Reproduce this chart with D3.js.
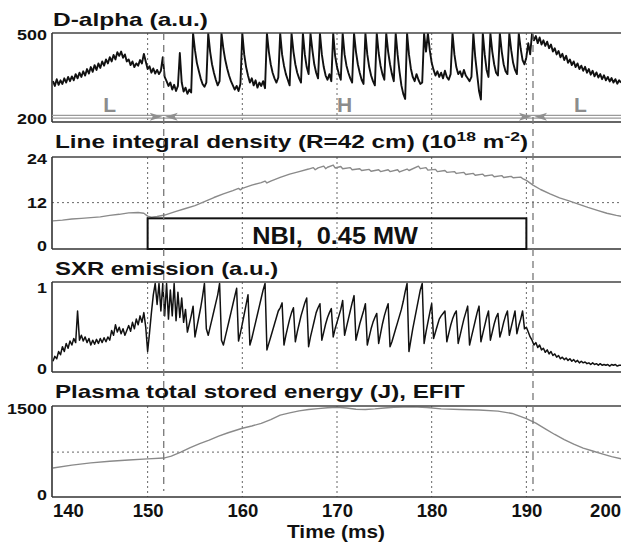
<!DOCTYPE html>
<html>
<head>
<meta charset="utf-8">
<script src="https://cdn.jsdelivr.net/npm/d3@7"></script>
<style>
  body { margin: 0; background: #fff; }
  text { font-family: "Liberation Sans", Arial, sans-serif; font-weight: bold; fill: #111; }
</style>
</head>
<body>
<svg id="chart" width="621" height="546"></svg>
<script>
// ---- data ----
var tickTimes = [140, 150, 160, 170, 180, 190, 200];
var gridTimes = [150, 160, 170, 180, 190];
var transitionTimes = [151.7, 190.7];          // L->H and H->L
var phaseLabels = ["L", "H", "L"];
var phaseTimes = [146, 170.8, 195.7];
var nbiStart = 150, nbiEnd = 190, nbiLevel = 7.7;
var nbiLabel = "NBI,  0.45 MW";

// D-alpha and SXR are sampled every 0.2 ms from 140 ms
var sampleStart = 140, sampleStep = 0.2;

var dalpha = [
  335, 318, 342, 322, 338,  325, 345, 330, 350, 335,  352, 338, 360, 345, 365,
  350, 370, 355, 378, 362,  385, 368, 392, 375, 398,  382, 405, 390, 412, 398,
  420, 405, 428, 412, 438,  425, 440, 418, 430, 405,  412, 392, 405, 385, 398,
  390, 410, 398, 432, 405,  378, 388, 365, 380, 362,  375, 360, 372, 420, 350,
  335, 318, 330, 305, 322,  300, 318, 435, 330, 298,  312, 290, 305, 295, 505,
  445, 400, 372, 345, 325,  315, 330, 505, 440, 395,  365, 340, 320, 335, 505,
  450, 410, 380, 355, 335,  320, 305, 318, 300, 325,  505, 430, 385, 355, 330,
  345, 320, 338, 312, 330,  318, 335, 310, 505, 440,  395, 365, 345, 330, 348,
  505, 430, 390, 360, 340,  320, 505, 440, 395, 365,  345, 330, 505, 430, 385,
  360, 505, 445, 395, 365,  345, 505, 430, 385, 355,  340, 360, 335, 505, 425,
  385, 360, 340, 505, 430,  390, 365, 345, 330, 505,  440, 395, 365, 340, 325,
  505, 430, 385, 355, 335,  320, 505, 435, 390, 360,  340, 505, 440, 395, 360,
  335, 505, 430, 370, 320,  290, 272, 505, 430, 380,  350, 335, 360, 340, 325,
  330, 505, 440, 505, 445,  400, 375, 355, 370, 350,  365, 345, 372, 350, 340,
  360, 505, 430, 385, 360,  370, 350, 375, 355, 345,  335, 350, 505, 420, 360,
  300, 270, 505, 430, 375,  350, 505, 440, 395, 365,  355, 505, 440, 395, 370,
  360, 505, 445, 400, 375,  360, 505, 450, 410, 395,  420, 470, 430, 505, 480,
  495, 470, 490, 465, 480,  460, 475, 452, 465, 440,  452, 430, 442, 420, 432,
  410, 425, 400, 412, 392,  405, 385, 398, 378, 390,  372, 386, 365, 378, 358,
  372, 352, 366, 348, 360,  342, 356, 338, 350, 334,  346, 330, 342, 326, 338,
  330
];

var sxr = [
  0.10, 0.16, 0.13, 0.22, 0.18,  0.28, 0.22, 0.32, 0.26, 0.35,  0.30, 0.38, 0.33, 0.72, 0.36,
  0.42, 0.35, 0.40, 0.33, 0.38,  0.30, 0.36, 0.31, 0.37, 0.32,  0.38, 0.33, 0.39, 0.34, 0.40,
  0.36, 0.48, 0.42, 0.55, 0.46,  0.52, 0.44, 0.50, 0.42, 0.48,  0.54, 0.47, 0.58, 0.50, 0.62,
  0.55, 0.66, 0.58, 0.70, 0.52,  0.22, 0.45, 0.70, 0.92, 1.06,  0.80, 1.06, 0.72, 1.06, 0.66,
  1.06, 0.62, 0.98, 0.66, 1.06,  0.60, 0.95, 0.64, 0.88, 0.58,  0.74, 0.46, 0.56, 0.66, 0.78,
  0.40, 0.52, 0.64, 0.76, 0.90,  1.06, 0.50, 0.42, 0.52, 0.62,  0.72, 0.82, 0.92, 1.06, 0.36,
  0.30, 0.40, 0.50, 0.60, 0.70,  0.80, 0.90, 1.00, 0.35, 0.45,  0.56, 0.68, 0.80, 0.92, 0.30,
  0.38, 0.48, 0.58, 0.68, 0.78,  0.88, 0.98, 1.06, 0.24, 0.32,  0.40, 0.48, 0.56, 0.64, 0.72,
  0.76, 0.82, 0.30, 0.42, 0.52,  0.62, 0.70, 0.76, 0.34, 0.46,  0.56, 0.66, 0.74, 0.82, 0.88,
  0.28, 0.40, 0.50, 0.60, 0.70,  0.76, 0.81, 0.36, 0.46, 0.56,  0.64, 0.70, 0.75, 0.40, 0.50,
  0.58, 0.66, 0.74, 0.85, 0.42,  0.52, 0.62, 0.72, 0.82, 0.91,  0.36, 0.46, 0.56, 0.64, 0.72,
  0.81, 0.30, 0.40, 0.50, 0.58,  0.64, 0.69, 0.32, 0.44, 0.56,  0.66, 0.74, 0.81, 0.28, 0.34,
  0.42, 0.50, 0.58, 0.66, 0.74,  0.84, 0.96, 1.06, 0.22, 0.36,  0.50, 0.62, 0.74, 0.86, 0.98,
  1.06, 0.32, 0.46, 0.58, 0.70,  0.81, 0.38, 0.46, 0.54, 0.62,  0.66, 0.69, 0.72, 0.34, 0.44,
  0.54, 0.62, 0.68, 0.72, 0.32,  0.42, 0.52, 0.62, 0.70, 0.78,  0.30, 0.40, 0.50, 0.60, 0.70,
  0.78, 0.34, 0.44, 0.54, 0.64,  0.72, 0.36, 0.46, 0.56, 0.64,  0.69, 0.40, 0.48, 0.58, 0.66,
  0.72, 0.42, 0.52, 0.62, 0.72,  0.44, 0.54, 0.62, 0.72, 0.50,  0.52, 0.46, 0.40, 0.36, 0.30,
  0.33, 0.27, 0.30, 0.24, 0.26,  0.21, 0.24, 0.19, 0.22, 0.17,  0.19, 0.15, 0.17, 0.13, 0.15,
  0.12, 0.14, 0.11, 0.13, 0.10,  0.12, 0.09, 0.11, 0.08, 0.10,  0.08, 0.09, 0.07, 0.08, 0.06,
  0.08, 0.06, 0.07, 0.05, 0.07,  0.05, 0.06, 0.05, 0.06, 0.04,  0.06, 0.05, 0.06, 0.04, 0.05,
  0.05
];

// [time ms, 10^18 m^-2]
var density = [
  [140, 7.0], [141, 7.2], [142, 7.5], [143, 7.7], [144, 7.9], [145, 8.1], [146, 8.5], [147, 8.8],
  [148, 9.2], [149, 9.3], [149.6, 9.1], [150, 8.3], [150.4, 8.0], [151, 8.2], [151.8, 8.6],
  [153, 9.6], [154, 10.4], [155, 11.2], [156, 12.3], [157, 13.4], [158, 14.4], [159, 15.3],
  [159.6, 15.9], [159.8, 15.5], [160, 15.9], [161, 16.8], [162, 17.5], [162.4, 17.9], [162.6, 17.4],
  [163, 17.9], [164, 18.9], [165, 19.8], [166, 20.5], [167, 21.2], [167.5, 21.6], [167.7, 21.0],
  [168, 21.5], [168.6, 22.0], [168.8, 21.3], [169, 21.7], [169.6, 22.3], [169.8, 21.5],
  [170.4, 21.9], [170.6, 21.3], [171.4, 21.6], [171.6, 21.0], [172.4, 21.3], [172.6, 20.8],
  [173.4, 21.1], [173.6, 20.6], [174.4, 21.0], [174.6, 20.5], [175.4, 21.0], [175.6, 20.5],
  [176.4, 21.0], [176.6, 20.4], [177.4, 21.2], [177.6, 20.8], [178.6, 22.0], [178.8, 21.3],
  [179.4, 21.6], [179.6, 20.9], [180.4, 21.1], [180.6, 20.5], [181.4, 20.8], [181.6, 20.3],
  [182.4, 20.5], [182.6, 20.0], [183.4, 20.3], [183.6, 19.7], [184.4, 20.0], [184.6, 19.5],
  [185.4, 19.8], [185.6, 19.3], [186.4, 19.6], [186.6, 19.1], [187.4, 19.4], [187.6, 18.9],
  [188.4, 19.2], [188.6, 18.8], [189.4, 19.0], [189.6, 18.6], [190, 18.1], [190.7, 16.8],
  [191.5, 15.6], [192.5, 14.4], [193.5, 13.3], [194.5, 12.5], [195.5, 11.6], [196.5, 10.7],
  [197.5, 9.9], [198.5, 9.1], [199.5, 8.5], [200.1, 8.2]
];

// [time ms, J]
var energy = [
  [140, 470], [142, 520], [144, 560], [146, 590], [148, 610], [150, 630], [151.7, 645],
  [152.5, 680], [153.5, 750], [154.5, 830], [155.5, 900], [156.5, 960], [157.5, 1030],
  [158.5, 1090], [160, 1170], [161, 1210], [162, 1255], [163, 1320], [164, 1400], [165, 1440],
  [166, 1475], [167, 1500], [168, 1515], [169, 1530], [170, 1540], [171, 1525], [172, 1505],
  [173, 1500], [174, 1510], [175, 1525], [176, 1540], [178, 1545], [179.5, 1535], [181, 1510],
  [183, 1500], [185, 1490], [187, 1470], [188.5, 1430], [190, 1340], [191, 1260], [192, 1160],
  [193, 1060], [194, 970], [195, 890], [196, 820], [197, 770], [198, 720], [199, 670], [200.1, 630]
];

// ---- layout ----
var svg = d3.select("#chart");
var left = 52, right = 622;
var x = d3.scaleLinear().domain([139.9, 200.1]).range([left, right]);

function sampled(values) {
  return values.map(function(v, i) { return [sampleStart + i * sampleStep, v]; });
}

var panels = [
  { id: "da", top: 33, bottom: 122, domain: [190, 506], ticks: [200, 500], grid: null,
    data: sampled(dalpha), color: "#111", width: 1.9 },
  { id: "ne", top: 157, bottom: 249, domain: [-0.7, 24.5], ticks: [0, 12, 24], grid: 12,
    data: density, color: "#8a8a8a", width: 1.4 },
  { id: "sxr", top: 282, bottom: 372, domain: [-0.033, 1.078], ticks: [0, 1], grid: null,
    data: sampled(sxr), color: "#111", width: 1.5 },
  { id: "we", top: 406, bottom: 497, domain: [-40, 1561], ticks: [0, 1500], grid: 750,
    data: energy, color: "#8a8a8a", width: 1.4 }
];

// scaled text helper (the figure's lettering is stretched sideways)
function stretched(g, px, py, sx, size) {
  return g.append("text")
    .attr("transform", "translate(" + px + "," + py + ") scale(" + sx + ",1)")
    .style("font-size", size + "px");
}

var defs = svg.append("defs");

panels.forEach(function(p) {
  var y = d3.scaleLinear().domain(p.domain).range([p.bottom, p.top]);
  p.y = y;
  var g = svg.append("g").attr("class", "panel " + p.id);

  defs.append("clipPath").attr("id", "clip-" + p.id)
    .append("rect").attr("x", left).attr("y", p.top).attr("width", right - left).attr("height", p.bottom - p.top);

  // dotted grid
  g.selectAll("line.vgrid").data(gridTimes).enter().append("line")
    .attr("class", "vgrid")
    .attr("x1", function(d) { return x(d); }).attr("x2", function(d) { return x(d); })
    .attr("y1", p.top).attr("y2", p.bottom)
    .attr("stroke", "#666").attr("stroke-width", 1).attr("stroke-dasharray", "2,3");
  if (p.grid != null) {
    g.append("line")
      .attr("x1", left).attr("x2", right).attr("y1", y(p.grid)).attr("y2", y(p.grid))
      .attr("stroke", "#666").attr("stroke-width", 1).attr("stroke-dasharray", "2,3");
  }

  // trace
  var line = d3.line().x(function(d) { return x(d[0]); }).y(function(d) { return y(d[1]); });
  g.append("path").datum(p.data)
    .attr("clip-path", "url(#clip-" + p.id + ")")
    .attr("d", line)
    .attr("fill", "none").attr("stroke", p.color).attr("stroke-width", p.width)
    .attr("stroke-linejoin", "round");

  // frame
  g.append("line").attr("x1", left).attr("x2", right).attr("y1", p.top).attr("y2", p.top)
    .attr("stroke", "#444").attr("stroke-width", 1.6);
  g.append("line").attr("x1", left).attr("x2", right).attr("y1", p.bottom).attr("y2", p.bottom)
    .attr("stroke", "#333").attr("stroke-width", 1.6);
  g.append("line").attr("x1", left).attr("x2", left).attr("y1", p.top).attr("y2", p.bottom)
    .attr("stroke", "#333").attr("stroke-width", 1.6);

  // y tick labels
  var ax = g.append("g").attr("transform", "translate(" + left + ",0)")
    .call(d3.axisLeft(y).tickValues(p.ticks).tickSize(0).tickPadding(4).tickFormat(d3.format("d")));
  ax.select(".domain").remove();
  ax.attr("font-family", null);
  ax.selectAll("text")
    .attr("transform", "scale(1.28,1)")
    .style("font-size", "14px").style("fill", "#111");
});

// NBI box in the density panel
var pn = panels[1];
svg.append("rect")
  .attr("x", x(nbiStart)).attr("y", pn.y(nbiLevel))
  .attr("width", x(nbiEnd) - x(nbiStart)).attr("height", pn.bottom - pn.y(nbiLevel))
  .attr("fill", "none").attr("stroke", "#111").attr("stroke-width", 2);
stretched(svg, (x(nbiStart) + x(nbiEnd)) / 2 - 2, 243.5, 1.1, 23)
  .attr("text-anchor", "middle").style("white-space", "pre").text(nbiLabel);

// L / H phase markers in the D-alpha panel
[115.4, 118.2].forEach(function(yy) {
  svg.append("line").attr("x1", left).attr("x2", right).attr("y1", yy).attr("y2", yy)
    .attr("stroke", "#9a9a9a").attr("stroke-width", 1.3);
});
transitionTimes.forEach(function(t) {
  var cx = x(t), cy = 116.8;
  svg.append("path")
    .attr("d", "M" + (cx - 1.5) + "," + cy + " L" + (cx - 14) + "," + (cy - 4) + " L" + (cx - 11) + "," + cy +
               " L" + (cx - 14) + "," + (cy + 4) + "Z")
    .attr("fill", "#8f8f8f");
  svg.append("path")
    .attr("d", "M" + (cx + 1.5) + "," + cy + " L" + (cx + 14) + "," + (cy - 4) + " L" + (cx + 11) + "," + cy +
               " L" + (cx + 14) + "," + (cy + 4) + "Z")
    .attr("fill", "#8f8f8f");
});
svg.selectAll("text.phase").data(phaseLabels).enter().append("text")
  .attr("class", "phase")
  .attr("x", function(d, i) { return x(phaseTimes[i]); })
  .attr("y", 111.7)
  .attr("text-anchor", "middle")
  .style("font-size", "21px").style("fill", "#8c8c8c")
  .text(function(d) { return d; });

// long dashed transition lines across all panels
svg.selectAll("line.trans").data(transitionTimes).enter().append("line")
  .attr("class", "trans")
  .attr("x1", function(d) { return x(d); }).attr("x2", function(d) { return x(d); })
  .attr("y1", 33).attr("y2", 491)
  .attr("stroke", "#777").attr("stroke-width", 1.3).attr("stroke-dasharray", "7,5");

// titles
stretched(svg, 53, 26, 1.36, 18).text("D-alpha (a.u.)");
var t2 = stretched(svg, 55, 148, 1.35, 18);
t2.append("tspan").text("Line integral density (R=42 cm) (10");
t2.append("tspan").attr("dy", -7).style("font-size", "13px").text("18");
t2.append("tspan").attr("dy", 7).text(" m");
t2.append("tspan").attr("dy", -7).style("font-size", "13px").text("-2");
t2.append("tspan").attr("dy", 7).text(")");
stretched(svg, 55, 275, 1.33, 18).text("SXR emission (a.u.)");
stretched(svg, 55, 398, 1.34, 18).text("Plasma total stored energy (J), EFIT");

// time axis labels
var xa = svg.append("g").attr("transform", "translate(0," + panels[3].bottom + ")")
  .call(d3.axisBottom(x).tickValues(tickTimes).tickSize(0).tickPadding(7).tickFormat(d3.format("d")));
xa.select(".domain").remove();
xa.attr("font-family", null).attr("font-size", null);
xa.selectAll("text")
  .style("font-size", "18.5px").style("fill", "#111")
  .attr("dx", function(d) { return d === 140 ? 15 : (d === 200 ? -16 : 0); });

stretched(svg, 336, 538, 1.12, 18.6).attr("text-anchor", "middle").text("Time (ms)");
</script>
</body>
</html>
